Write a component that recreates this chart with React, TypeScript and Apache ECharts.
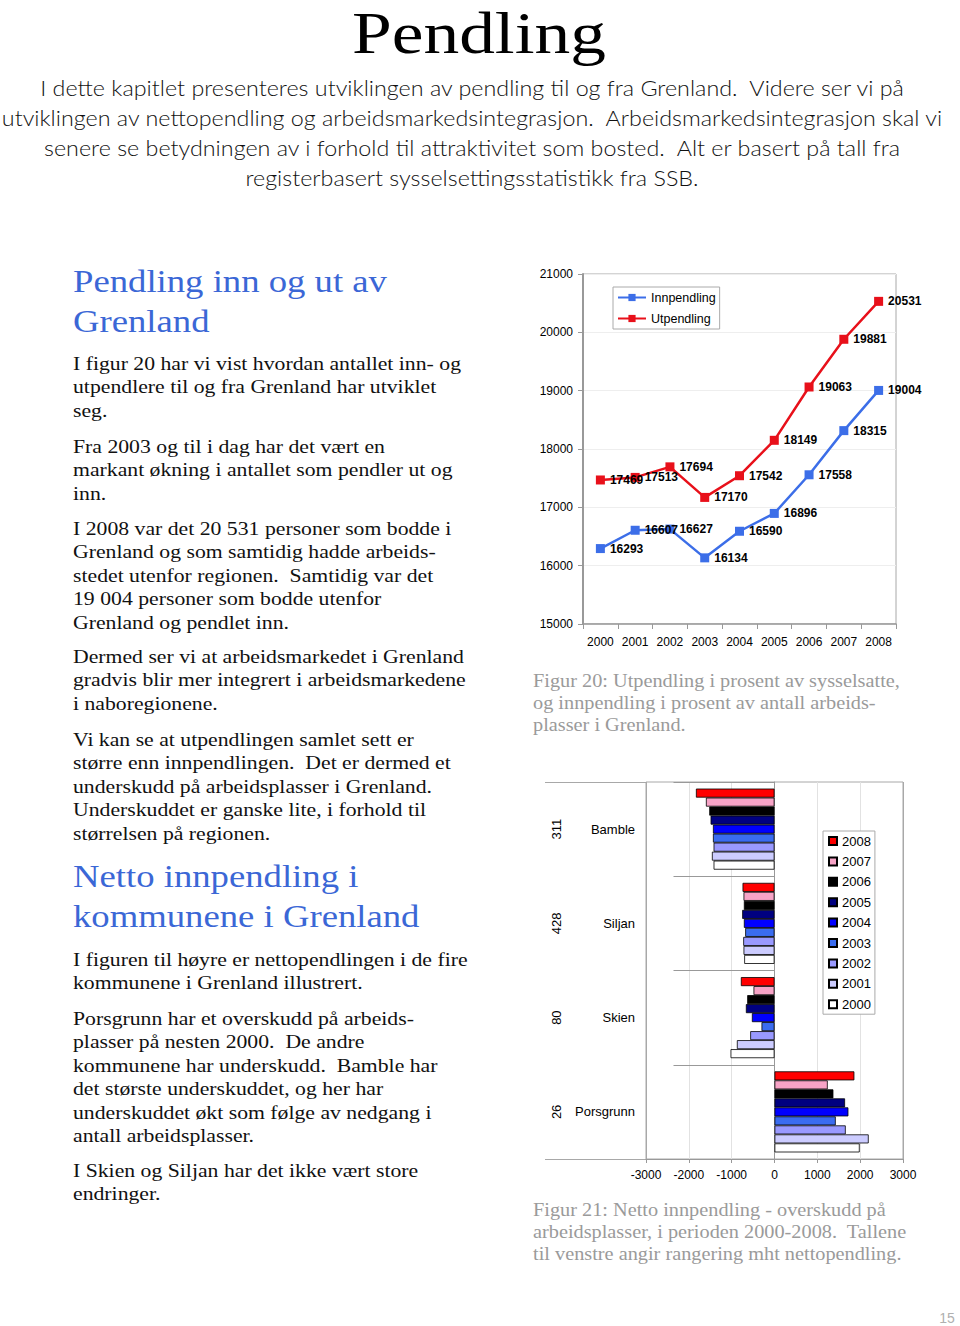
import React, { useEffect, useRef } from 'react';
import * as echarts from 'echarts';

// ---------- data ----------
const years = ['2000', '2001', '2002', '2003', '2004', '2005', '2006', '2007', '2008'];
const innpendling = [16293, 16607, 16627, 16134, 16590, 16896, 17558, 18315, 19004];
const utpendling = [17469, 17513, 17694, 17170, 17542, 18149, 19063, 19881, 20531];
const lineSeriesNames = ['Innpendling', 'Utpendling'];

const municipalities = ['Bamble', 'Siljan', 'Skien', 'Porsgrunn'];
const ranks = ['311', '428', '80', '26'];
const netYears = ['2008', '2007', '2006', '2005', '2004', '2003', '2002', '2001', '2000'];
const net2008 = [-1834, -746, -785, 1865];
const net2007 = [-1601, -723, -490, 1243];
const net2006 = [-1523, -715, -637, 1375];
const net2005 = [-1492, -754, -668, 1647];
const net2004 = [-1437, -715, -528, 1725];
const net2003 = [-1437, -684, -303, 1430];
const net2002 = [-1422, -730, -567, 1663];
const net2001 = [-1461, -723, -878, 2199];
const net2000 = [-1422, -707, -1026, 1989];
const netValues = [net2008, net2007, net2006, net2005, net2004, net2003, net2002, net2001, net2000];
const netColors = ['#ff0000', '#f7a3c6', '#000000', '#000080', '#0000ff', '#3a6cf0', '#9999ff', '#ccccff', '#ffffff'];

// ---------- page text ----------
const titleText = 'Pendling';
const introLines = [
  'I dette kapitlet presenteres utviklingen av pendling til og fra Grenland.  Videre ser vi på',
  'utviklingen av nettopendling og arbeidsmarkedsintegrasjon.  Arbeidsmarkedsintegrasjon skal vi',
  'senere se betydningen av i forhold til attraktivitet som bosted.  Alt er basert på tall fra',
  'registerbasert sysselsettingsstatistikk fra SSB.',
];
const heading1 = ['Pendling inn og ut av', 'Grenland'];
const heading2 = ['Netto innpendling i', 'kommunene i Grenland'];
const para1 = ['I figur 20 har vi vist hvordan antallet inn- og', 'utpendlere til og fra Grenland har utviklet', 'seg.'];
const para2 = ['Fra 2003 og til i dag har det vært en', 'markant økning i antallet som pendler ut og', 'inn.'];
const para3 = [
  'I 2008 var det 20 531 personer som bodde i',
  'Grenland og som samtidig hadde arbeids-',
  'stedet utenfor regionen.  Samtidig var det',
  '19 004 personer som bodde utenfor',
  'Grenland og pendlet inn.',
];
const para4 = ['Dermed ser vi at arbeidsmarkedet i Grenland', 'gradvis blir mer integrert i arbeidsmarkedene', 'i naboregionene.'];
const para5 = [
  'Vi kan se at utpendlingen samlet sett er',
  'større enn innpendlingen.  Det er dermed et',
  'underskudd på arbeidsplasser i Grenland.',
  'Underskuddet er ganske lite, i forhold til',
  'størrelsen på regionen.',
];
const para6 = ['I figuren til høyre er nettopendlingen i de fire', 'kommunene i Grenland illustrert.'];
const para7 = [
  'Porsgrunn har et overskudd på arbeids-',
  'plasser på nesten 2000.  De andre',
  'kommunene har underskudd.  Bamble har',
  'det største underskuddet, og her har',
  'underskuddet økt som følge av nedgang i',
  'antall arbeidsplasser.',
];
const para8 = ['I Skien og Siljan har det ikke vært store', 'endringer.'];
const caption1 = ['Figur 20: Utpendling i prosent av sysselsatte,', 'og innpendling i prosent av antall arbeids-', 'plasser i Grenland.'];
const caption2 = ['Figur 21: Netto innpendling - overskudd på', 'arbeidsplasser, i perioden 2000-2008.  Tallene', 'til venstre angir rangering mht nettopendling.'];
const pageNumber = '15';

const SERIF = '"Liberation Serif", "Times New Roman", serif';
const SANS = 'Lato, "Open Sans", sans-serif';
const ARIAL = '"Liberation Sans", Arial, sans-serif';

function measure(text: string, font: string): number {
  const c = document.createElement('canvas');
  const ctx = c.getContext('2d');
  if (!ctx) return 0;
  ctx.font = font;
  return ctx.measureText(text).width;
}

const plain = (v: number) => String(v);

export default function App() {
  const ref = useRef<HTMLDivElement>(null);

  useEffect(() => {
    if (!ref.current) return;
    const chart = echarts.init(ref.current, undefined, { renderer: 'svg' });

    // horizontal scale factors so the system fonts fill the same widths as the original typefaces
    const fit = (text: string, size: number, family: string, target: number, weight = 'normal') => {
      const w = measure(text, `${weight} ${size}px ${family}`);
      return w > 0 ? target / w : 1;
    };
    const titleSize = 60;
    const introSize = 21;
    const headSize = 32;
    const bodySize = 19;
    const capSize = 18;
    const sTitle = fit(titleText, titleSize, SERIF, 254);
    const sIntro = fit(introLines[1], introSize, SANS, 943, '300');
    const sHead = fit(heading1[0], headSize, SERIF, 314);
    const sBody = fit(para1[0], bodySize, SERIF, 388);
    const sCap = fit(caption1[0], capSize, SERIF, 367);

    const graphics: any[] = [];
    const addText = (
      text: string, x: number, y: number, size: number, family: string, fill: string,
      scaleX: number, align = 'left', weight: string = 'normal'
    ) => {
      graphics.push({
        type: 'text', x, y, scaleX, silent: true,
        style: {
          text, fontSize: size, fontFamily: family, fontWeight: weight, fill,
          align, verticalAlign: 'middle',
        },
      });
    };
    const addBlock = (lines: string[], x: number, y0: number, step: number, size: number, family: string, fill: string, scaleX: number, align = 'left', weight = 'normal') => {
      lines.forEach((l, i) => addText(l, x, y0 + i * step, size, family, fill, scaleX, align, weight));
    };

    addText(titleText, 479, 33, titleSize, SERIF, '#000', sTitle, 'center');
    addBlock(introLines, 472, 88, 30, introSize, SANS, '#111', sIntro, 'center', '300');

    const blue = '#3b67d6';
    addBlock(heading1, 73, 281, 40, headSize, SERIF, blue, sHead);
    addBlock(heading2, 73, 876, 40, headSize, SERIF, blue, sHead);
    const bodyStep = 23.5;
    const bodyFill = '#111';
    addBlock(para1, 73, 363, bodyStep, bodySize, SERIF, bodyFill, sBody);
    addBlock(para2, 73, 446, bodyStep, bodySize, SERIF, bodyFill, sBody);
    addBlock(para3, 73, 528, bodyStep, bodySize, SERIF, bodyFill, sBody);
    addBlock(para4, 73, 656, bodyStep, bodySize, SERIF, bodyFill, sBody);
    addBlock(para5, 73, 739, bodyStep, bodySize, SERIF, bodyFill, sBody);
    addBlock(para6, 73, 959, bodyStep, bodySize, SERIF, bodyFill, sBody);
    addBlock(para7, 73, 1018, bodyStep, bodySize, SERIF, bodyFill, sBody);
    addBlock(para8, 73, 1170, bodyStep, bodySize, SERIF, bodyFill, sBody);

    addBlock(caption1, 533, 681, 22, capSize, SERIF, '#9a9a9a', sCap);
    addBlock(caption2, 533, 1210, 22, capSize, SERIF, '#9a9a9a', sCap);
    addText(pageNumber, 947, 1318, 14, ARIAL, '#b0b0b0', 1, 'center');

    // frame lines of the category column to the left of the bar chart (top and bottom)
    const frame = { stroke: '#a8a8a8', lineWidth: 1 };
    graphics.push({ type: 'line', silent: true, shape: { x1: 545, y1: 782.5, x2: 646, y2: 782.5 }, style: frame });
    graphics.push({ type: 'line', silent: true, shape: { x1: 545, y1: 1159.5, x2: 646, y2: 1159.5 }, style: frame });

    const axisGrey = '#999';

    const option: any = {
      animation: false,
      backgroundColor: '#fff',
      graphic: { elements: graphics },
      grid: [
        { left: 583, top: 274, width: 313, height: 350, show: true, borderColor: '#a8a8a8', borderWidth: 1, containLabel: false },
        { left: 646, top: 782, width: 257, height: 377, show: true, borderColor: '#a8a8a8', borderWidth: 1, containLabel: false },
      ],
      legend: [
        {
          data: lineSeriesNames,
          orient: 'vertical',
          left: 613, top: 287,
          padding: [4, 4, 4, 4],
          itemWidth: 28, itemHeight: 9, itemGap: 8,
          borderColor: '#aaa', borderWidth: 1, backgroundColor: '#fff',
          selectedMode: false,
          textStyle: { fontSize: 12.5, fontFamily: ARIAL, color: '#000', lineHeight: 13 },
        },
        {
          data: netYears,
          orient: 'vertical',
          left: 823, top: 831,
          padding: [3, 4, 3, 5],
          itemWidth: 8, itemHeight: 8, itemGap: 6.4,
          icon: 'rect',
          borderColor: '#aaa', borderWidth: 1, backgroundColor: '#fff',
          selectedMode: false,
          textStyle: { fontSize: 13, fontFamily: ARIAL, color: '#000', lineHeight: 14 },
        },
      ],
      xAxis: [
        {
          type: 'category', gridIndex: 0, data: years, boundaryGap: true,
          axisLine: { show: true, lineStyle: { color: axisGrey, width: 1.5 } },
          axisTick: { show: true, interval: 0, length: 5, lineStyle: { color: axisGrey } },
          axisLabel: { interval: 0, fontSize: 12, fontFamily: ARIAL, color: '#000', margin: 12 },
          splitLine: { show: false },
        },
        {
          type: 'value', gridIndex: 1, min: -3000, max: 3000, interval: 1000,
          axisLine: { show: true, lineStyle: { color: axisGrey, width: 1 } },
          axisTick: { show: true, length: 4, lineStyle: { color: axisGrey } },
          axisLabel: { fontSize: 12, fontFamily: ARIAL, color: '#000', margin: 10, formatter: plain },
          splitLine: {
            show: true,
            lineStyle: { color: ['#a8a8a8', '#e2e2e2', '#e2e2e2', 'rgba(0,0,0,0)', '#e2e2e2', '#e2e2e2', '#a8a8a8'], width: 1 },
          },
        },
      ],
      yAxis: [
        {
          type: 'value', gridIndex: 0, min: 15000, max: 21000, interval: 1000,
          axisLine: { show: true, lineStyle: { color: axisGrey, width: 2 } },
          axisTick: { show: true, length: 5, lineStyle: { color: axisGrey } },
          axisLabel: { fontSize: 12, fontFamily: ARIAL, color: '#000', margin: 10, formatter: plain },
          splitLine: { show: true, lineStyle: { color: '#eeeeee', width: 1 } },
        },
        {
          type: 'category', gridIndex: 1, data: municipalities, inverse: true, position: 'left',
          axisLine: { show: true, lineStyle: { color: axisGrey, width: 1 } },
          axisTick: { show: true, interval: 0, length: 101, lineStyle: { color: axisGrey } },
          axisLabel: { interval: 0, fontSize: 13, fontFamily: ARIAL, color: '#000', margin: 11 },
          splitLine: { show: false },
        },
        {
          type: 'category', gridIndex: 1, data: ranks, inverse: true, position: 'left', offset: 78,
          axisLine: { show: false },
          axisTick: { show: false },
          axisLabel: { interval: 0, rotate: 90, fontSize: 13, fontFamily: ARIAL, color: '#000', margin: 5 },
          splitLine: { show: false },
        },
        {
          type: 'category', gridIndex: 1, data: municipalities, inverse: true, position: 'left', offset: -128,
          axisLine: { show: false },
          axisTick: { show: true, interval: 0, length: 5, lineStyle: { color: axisGrey } },
          axisLabel: { show: false },
          splitLine: { show: false },
        },
      ],
      series: [
        {
          name: lineSeriesNames[0], type: 'line', xAxisIndex: 0, yAxisIndex: 0, data: innpendling,
          symbol: 'rect', symbolSize: 9,
          itemStyle: { color: '#3c6ee8' },
          lineStyle: { color: '#3c6ee8', width: 2.5 },
          label: { show: true, position: 'right', distance: 5, fontSize: 12, fontWeight: 'bold', fontFamily: ARIAL, color: '#000' },
          z: 3,
        },
        {
          name: lineSeriesNames[1], type: 'line', xAxisIndex: 0, yAxisIndex: 0, data: utpendling,
          symbol: 'rect', symbolSize: 9,
          itemStyle: { color: '#e8101a' },
          lineStyle: { color: '#e8101a', width: 2.5 },
          label: { show: true, position: 'right', distance: 5, fontSize: 12, fontWeight: 'bold', fontFamily: ARIAL, color: '#000' },
          z: 4,
        },
        ...netYears.map((yr, i) => ({
          name: yr, type: 'bar', xAxisIndex: 1, yAxisIndex: 1, data: netValues[i],
          barGap: '0%', barCategoryGap: '14%',
          itemStyle: { color: netColors[i], borderColor: '#000', borderWidth: 0.8 },
        })),
      ],
    };

    chart.setOption(option);
    return () => chart.dispose();
  }, []);

  return (
    <div
      ref={ref}
      style={{ position: 'absolute', left: 0, top: 0, width: 960, height: 1326, background: '#fff' }}
    />
  );
}
